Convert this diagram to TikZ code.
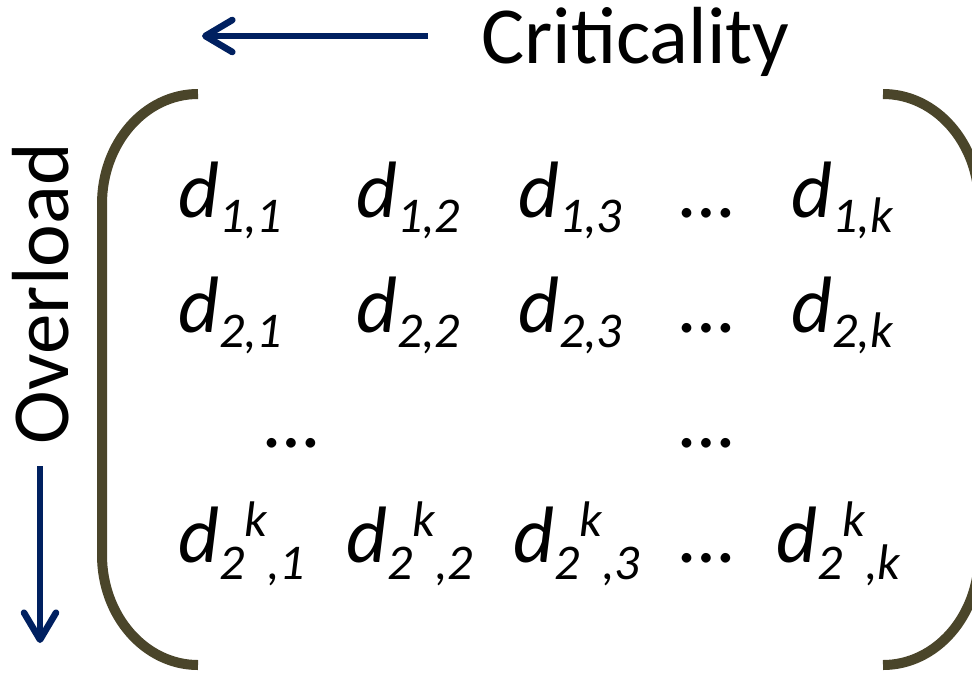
\documentclass[tikz,border=0pt]{standalone}
\usepackage{fontspec}
\setmainfont{Carlito}
\usetikzlibrary{arrows.meta}
\definecolor{navyblue}{RGB}{0,32,96}
\definecolor{bracketcol}{RGB}{74,69,42}
\newcommand{\subsz}{\fontsize{25}{25}\selectfont}
\newcommand{\dij}[1]{\textit{d\raisebox{-7.5pt}{\subsz #1}}}
\newcommand{\dkj}[1]{\textit{d\raisebox{-8.5pt}{\subsz 2}\raisebox{13pt}{\subsz k}\raisebox{-8.5pt}{\subsz ,#1}}}
\tikzset{
  entry/.style={anchor=base west, inner sep=0pt, outer sep=0pt, font=\fontsize{40}{40}\selectfont},
  label/.style={inner sep=0pt, outer sep=0pt, font=\fontsize{40.5}{40.5}\selectfont},
  navyarrow/.style={draw=navyblue, line width=3.3pt, -{Straight Barb[length=13.5pt,width=16pt,round]}},
  bracket/.style={draw=bracketcol, line width=5pt},
}
\begin{document}
\begin{tikzpicture}[x=0.5pt,y=-0.5pt]
\useasboundingbox[fill=white] (0,0) rectangle (972,680);
% labels
\node[label, anchor=base west] (crit) at (481,63) {Criticality};
\node[label, anchor=base west, rotate=90] (over) at (68,444) {Overload};
% arrows
\coordinate (ca) at (428,36);
\coordinate (cb) at (202,36);
\coordinate (oa) at (40,466);
\coordinate (ob) at (40,643);
\draw[navyarrow] (ca) -- (cb);
\draw[navyarrow] (oa) -- (ob);
% brackets
\begin{scope}
\clip (0,0) rectangle (972,680);
\draw[bracket] (198,94) .. controls (145,94) and (102,143) .. (102,204)
  -- (102,555) .. controls (102,616) and (145,665) .. (198,665);
\draw[bracket] (883,94) .. controls (936,94) and (979,143) .. (979,204)
  -- (979,555) .. controls (979,616) and (936,665) .. (883,665);
\end{scope}
% matrix entries
\node[entry] (a11) at (178,217) {\dij{1,1}};
\node[entry] (a12) at (356,217) {\dij{1,2}};
\node[entry] (a13) at (518,217) {\dij{1,3}};
\node[entry] (a14) at (680,217) {\textit{…}};
\node[entry] (a15) at (791,217) {\dij{1,k}};
\node[entry] (a21) at (178,332) {\dij{2,1}};
\node[entry] (a22) at (356,332) {\dij{2,2}};
\node[entry] (a23) at (518,332) {\dij{2,3}};
\node[entry] (a24) at (680,332) {\textit{…}};
\node[entry] (a25) at (791,332) {\dij{2,k}};
\node[entry] (a31) at (265,447) {\textit{…}};
\node[entry] (a34) at (680,447) {\textit{…}};
\node[entry] (a41) at (178,562) {\dkj{1}};
\node[entry] (a42) at (346,562) {\dkj{2}};
\node[entry] (a43) at (513,562) {\dkj{3}};
\node[entry] (a44) at (680,562) {\textit{…}};
\node[entry] (a45) at (776,562) {\dkj{k}};
\end{tikzpicture}
\end{document}
